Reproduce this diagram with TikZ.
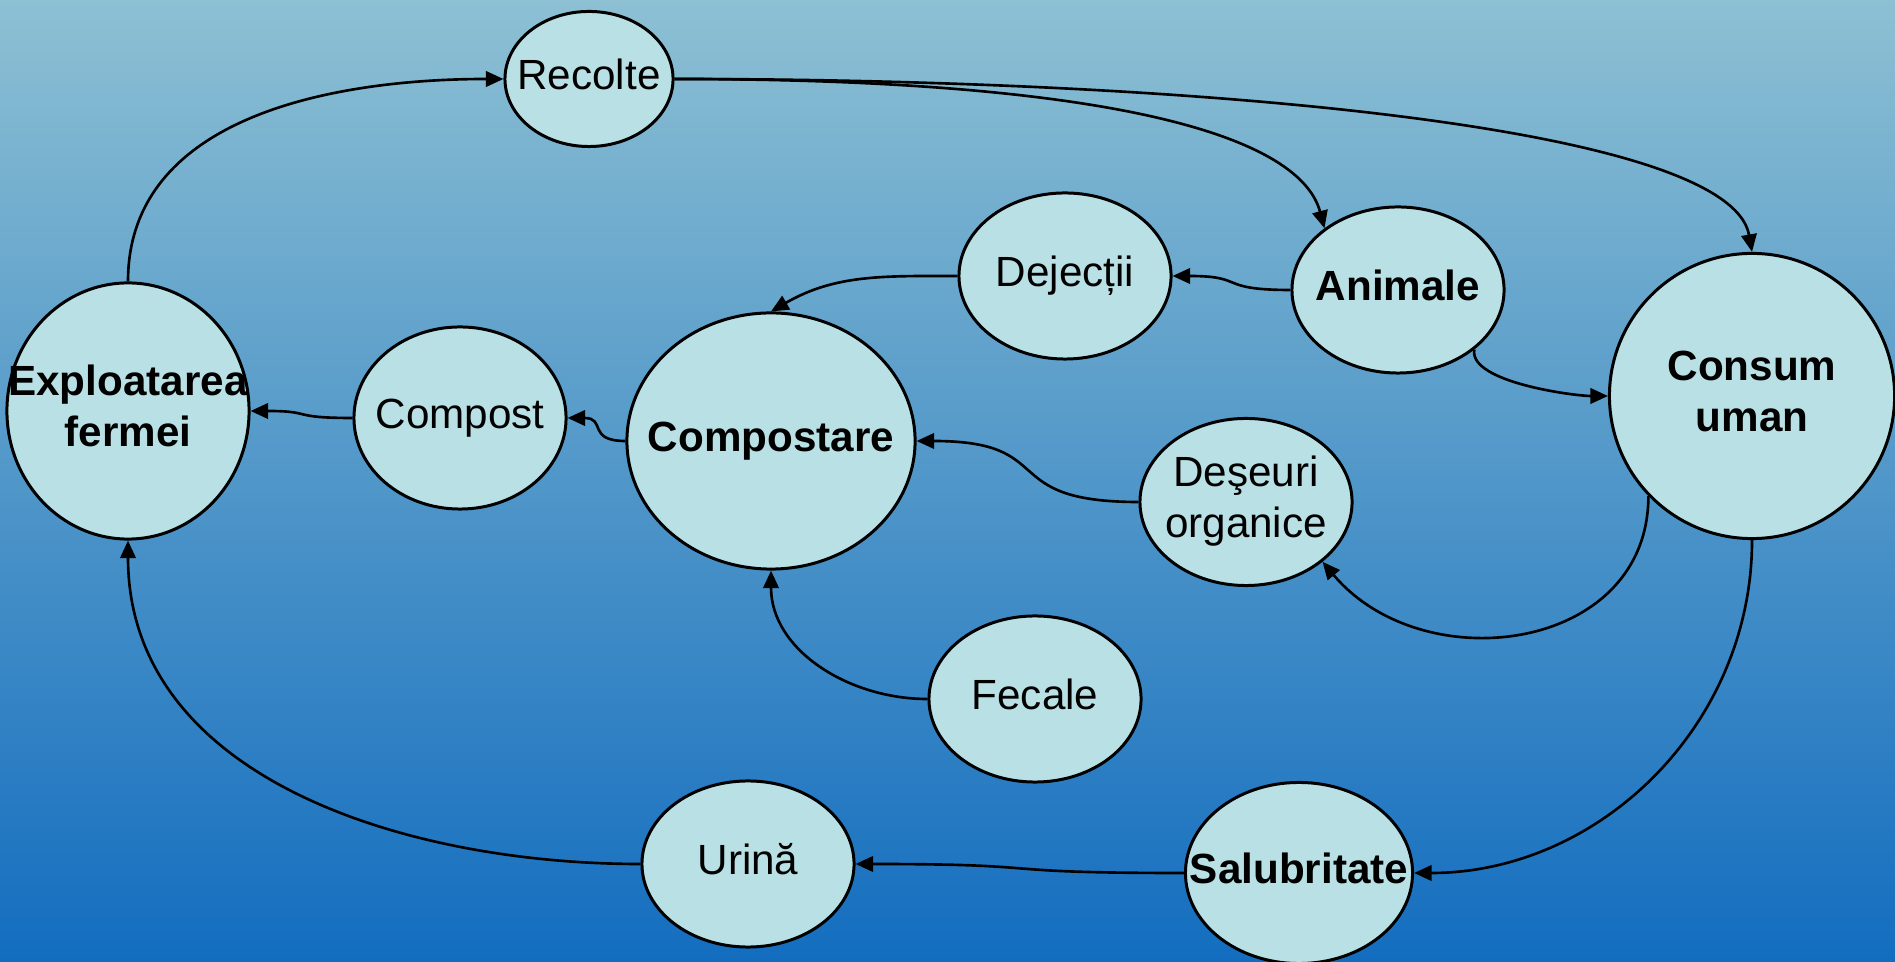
\documentclass[tikz,border=0pt]{standalone}
\usepackage{fontspec}
\setmainfont{Liberation Sans}
\usetikzlibrary{shapes.geometric,arrows.meta}
\definecolor{bgtop}{HTML}{8DC0D3}
\definecolor{bgbottom}{HTML}{136DBF}
\definecolor{bubblefill}{HTML}{B9E0E4}
\newcommand{\bubtext}[1]{\makebox[0pt]{\raisebox{-1.2pt}{\begin{tabular}{@{}c@{}}#1\end{tabular}}}}

\begin{document}
\begin{tikzpicture}[x=0.01cm,y=0.01cm]
% Stiluri
\tikzset{bubble/.style 2 args={ellipse,draw,fill=bubblefill,line width=.85pt,inner sep=0pt,minimum width=#1,minimum height=#2,font=\fontsize{12}{14.5}\selectfont},
flow/.style={-{Triangle[length=5pt,width=4.4pt]},line width=.75pt}}

% Fundal
\shade[top color=bgtop,bottom color=bgbottom] (0,0) rectangle (1895,961);
\useasboundingbox (0,0) rectangle (1895,961);

% Noduri
\node[bubble={1.68cm}{1.35cm}] (rec) at (589,882) {\bubtext{Recolte}};
\node[bubble={2.42cm}{2.56cm}] (exp) at (128,550) {\bubtext{\textbf{Exploatarea}\\\textbf{fermei}}};
\node[bubble={2.12cm}{1.82cm}] (cpt) at (460,543) {\bubtext{Compost}};
\node[bubble={2.88cm}{2.56cm}] (cmp) at (771,520) {\bubtext{\textbf{Compostare}}};
\node[bubble={2.12cm}{1.66cm}] (dej) at (1065,685) {\bubtext{Dejecții}};
\node[bubble={2.12cm}{1.66cm}] (ani) at (1398,671) {\bubtext{\textbf{Animale}}};
\node[bubble={2.85cm}{2.85cm}] (cons) at (1752,565) {\bubtext{\textbf{Consum}\\\textbf{uman}}};
\node[bubble={2.12cm}{1.67cm}] (des) at (1246,459) {\bubtext{Deşeuri\\organice}};
\node[bubble={2.12cm}{1.66cm}] (fec) at (1035,262) {\bubtext{Fecale}};
\node[bubble={2.12cm}{1.66cm}] (uri) at (748,97) {\bubtext{Urină}};
\node[bubble={2.27cm}{1.81cm}] (sal) at (1299,88) {\bubtext{\textbf{Salubritate}}};

% Legaturi
\draw[flow] (exp.north) to[out=90,in=180] (rec.west);
\draw[flow] (rec.east) to[out=0,in=105,out distance=4.2cm,in distance=1cm] (ani.140);
\draw[flow] (rec.east) to[out=0,in=100,out distance=5cm,in distance=1.3cm] (cons.north);
\draw[flow] (ani.west) to[out=180,in=0,looseness=1.6] (dej.east);
\draw[flow] (dej.west) to[out=180,in=30] (cmp.north);
\draw[flow] (ani.-38) to[out=-100,in=180,looseness=.6] (cons.west);
\draw[flow] (cons.224) to[out=-90,in=-50,looseness=1.2] (des.-38);
\draw[flow] (des.west) to[out=180,in=0,looseness=1.6] (cmp.east);
\draw[flow] (fec.west) to[out=180,in=-90] (cmp.south);
\draw[flow] (cmp.west) to[out=180,in=0,looseness=1.6] (cpt.east);
\draw[flow] (cpt.west) to[out=180,in=0,looseness=1.6] (exp.east);
\draw[flow] (cons.south) to[out=-90,in=0] (sal.east);
\draw[flow] (sal.west) to[out=180,in=0,looseness=1.6] (uri.east);
\draw[flow] (uri.west) to[out=180,in=-90,looseness=1] (exp.south);

\end{tikzpicture}
\end{document}
